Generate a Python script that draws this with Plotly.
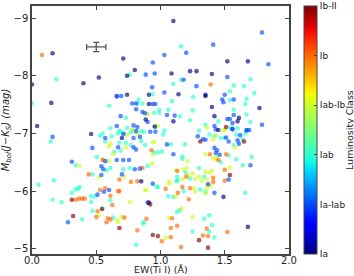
import numpy as np
import plotly.graph_objects as go

# ---- data ----
# Luminosity class code: 0=Ia, 1=Ia-Iab, 2=Iab, 3=Iab-Ib, 4=Ib, 5=Ib-II
class_labels = ["Ia", "Ia-Iab", "Iab", "Iab-Ib", "Ib", "Ib-II"]

iab_ew = [0.19, 0.0, 0.60, 0.61, 0.68, 1.16, 0.76, 1.16, 1.10, 0.94, 1.255, 0.83, 1.09, 0.82, 0.86,
          0.99, 1.06, 0.95, 0.99, 1.15, 0.73, 0.74, 1.23, 1.35, 1.30, 0.96, 1.57, 1.65, 1.70, 1.54,
          1.73, 1.54, 1.67, 1.66, 1.57, 1.67, 1.70, 1.45, 1.54, 1.60, 0.146, 0.55, 0.57, 0.505, 0.34,
          0.58, 0.61, 0.47, 0.05, 0.17, 0.37, 0.36, 0.34, 0.31, 0.49, 0.46, 0.16, 0.23, 0.46, 0.61,
          0.47, 0.55, 0.63, 0.39, 0.67, 0.72, 0.77, 0.85, 0.68, 0.73, 0.77, 1.02, 1.08, 1.19, 1.17,
          1.17, 0.95, 0.98, 1.01, 0.71, 0.76, 0.90, 0.98, 1.13, 1.13, 1.06, 1.18, 1.13, 1.15, 0.865,
          0.81, 1.25, 1.71, 1.64, 1.59, 1.47, 1.53, 1.35, 1.66, 1.38, 1.34, 1.40, 1.38, 1.42, 1.23,
          1.195, 1.30, 1.34, 1.31, 1.125, 1.10, 0.97, 0.87, 1.66, 1.59, 1.47, 1.50, 1.42, 1.38, 1.57,
          1.64, 0.64, 0.69, 0.85, 0.88, 0.62, 1.03, 0.78, 0.87, 0.53, 0.69, 1.25]
iab_mbol = [-7.94, -7.52, -7.48, -7.09, -7.05, -8.51, -8.02, -7.93, -7.86, -7.68, -7.63, -7.59, -7.56, -7.52, -7.52,
            -7.41, -7.41, -7.36, -7.36, -7.30, -7.27, -7.10, -7.23, -7.15, -7.05, -7.11, -7.83, -7.82, -7.94, -7.73,
            -7.70, -7.58, -7.60, -7.51, -7.41, -7.33, -7.20, -7.21, -7.10, -7.09, -6.86, -7.00, -6.86, -6.59, -6.45,
            -6.36, -6.40, -6.29, -6.11, -6.19, -6.07, -6.04, -6.03, -5.97, -5.91, -5.91, -5.85, -5.81, -5.81, -5.84,
            -5.66, -5.70, -5.54, -5.51, -7.00, -7.00, -7.02, -7.04, -6.84, -6.84, -6.80, -6.98, -6.81, -6.81, -6.60,
            -6.56, -6.67, -6.67, -6.69, -6.38, -6.40, -6.44, -6.07, -6.25, -6.19, -5.91, -6.00, -5.64, -5.67, -5.44,
            -5.07, -5.30, -6.59, -6.45, -6.55, -6.50, -6.62, -5.99, -5.97, -5.58, -5.52, -5.41, -5.30, -5.20, -6.22,
            -6.32, -6.40, -6.25, -6.03, -6.17, -5.90, -6.08, -5.46, -7.00, -6.98, -6.92, -6.92, -6.95, -6.98, -6.80,
            -6.90, -6.68, -6.70, -6.87, -6.80, -6.95, -7.05, -7.05, -7.03, -6.96, -7.03, -7.40]

iabib_ew = [0.90, 0.78, 0.98, 1.36, 1.49, 1.50, 0.61, 0.63, 0.37, 0.60, 0.52, 0.52, 0.67, 0.74, 0.73,
            0.94, 0.95, 0.94, 1.21, 0.72, 0.89, 1.07, 0.76, 0.66, 0.70, 1.065, 1.04, 1.25, 1.58, 1.43,
            1.41, 1.43, 1.41, 1.35, 1.35, 1.38, 1.40, 1.54, 1.36, 1.37, 1.36, 1.125, 1.18, 1.25, 1.27,
            1.32, 1.39, 1.17, 1.26, 1.27, 1.35, 1.16, 1.065, 0.935, 0.88, 1.12, 0.82, 0.55, 0.60, 1.44,
            1.30, 1.22, 1.20]
iabib_mbol = [-7.34, -7.06, -7.13, -7.10, -7.06, -7.06, -6.82, -6.65, -6.44, -6.52, -6.24, -5.58, -5.47, -6.97, -6.76,
              -6.85, -6.85, -6.63, -6.52, -6.25, -6.02, -6.13, -5.81, -5.50, -5.55, -5.54, -5.19, -5.55, -6.76, -6.97,
              -6.90, -6.55, -6.57, -6.64, -6.34, -6.32, -6.35, -6.41, -6.20, -6.12, -6.05, -6.36, -6.37, -6.31, -6.21,
              -6.18, -6.09, -6.21, -6.05, -5.99, -5.96, -5.70, -6.17, -6.48, -6.02, -5.91, -7.00, -6.55, -6.78, -6.60,
              -6.25, -6.27, -6.40]

ib_ew = [0.078, 1.39, 0.55, 0.44, 0.53, 0.67, 0.61, 0.34, 0.365, 0.39, 0.41, 0.625, 0.51, 0.59, 0.61,
         0.93, 0.86, 0.68, 0.77, 0.82, 0.68, 1.04, 1.13, 1.135, 1.17, 1.20, 1.23, 1.22, 0.72, 0.89,
         1.09, 1.08, 1.13, 0.82, 1.01, 1.08, 1.16, 1.37, 1.385, 1.51, 1.45, 1.50, 1.41, 1.50, 1.41,
         1.36, 1.52, 1.33, 0.50, 0.57, 0.58]
ib_mbol = [-8.36, -7.85, -6.54, -6.29, -6.02, -6.00, -5.92, -5.85, -5.87, -5.87, -5.87, -5.76, -5.65, -5.53, -5.51,
           -6.71, -6.40, -6.20, -6.16, -6.17, -6.00, -6.04, -6.35, -5.97, -6.07, -6.25, -6.05, -5.86, -5.54, -5.52,
           -5.53, -5.36, -5.40, -5.32, -5.13, -5.20, -5.03, -5.22, -6.64, -6.64, -6.54, -6.37, -6.23, -6.18, -6.16,
           -5.35, -5.29, -5.23, -5.55, -6.05, -5.46]

iaiab_ew = [0.66, 0.66, 1.20, 1.03, 0.94, 0.885, 0.955, 1.18, 1.28, 0.66, 0.695, 1.03, 0.78, 0.81, 0.94,
            0.96, 0.81, 0.86, 1.05, 1.11, 0.69, 0.90, 0.79, 1.79, 1.41, 1.84, 1.52, 1.50, 1.48, 1.49,
            1.57, 1.57, 1.52, 1.54, 1.56, 1.79, 1.42, 1.56, 1.67, 1.69, 0.16, 0.57, 0.47, 0.67, 0.31,
            0.57, 0.66, 0.54, 0.555, 0.54, 0.56, 0.60, 0.51, 0.28, 0.71, 0.81, 0.84, 0.92, 0.96, 0.79,
            0.79, 0.81, 1.05, 1.29, 1.33, 1.10, 0.71, 0.755, 0.80, 0.84, 0.70, 0.94, 0.90, 1.43, 1.56,
            1.62, 1.67, 1.60, 1.61, 1.53, 1.42, 1.44, 1.43, 1.51, 1.35, 1.70, 1.46, 1.53, 1.37, 1.42,
            0.935, 0.82, 0.88]
iaiab_mbol = [-7.64, -7.13, -8.40, -8.36, -8.23, -8.02, -8.04, -7.93, -7.82, -7.65, -7.65, -7.71, -7.52, -7.52, -7.51,
              -7.51, -7.42, -7.37, -7.32, -7.31, -7.30, -7.20, -7.14, -8.75, -8.54, -8.20, -7.98, -7.67, -7.59, -7.54,
              -7.59, -7.32, -7.25, -7.25, -7.18, -7.15, -7.13, -7.08, -7.06, -7.06, -6.94, -6.92, -6.75, -6.76, -6.51,
              -6.52, -6.54, -6.43, -6.38, -6.28, -5.99, -6.02, -5.94, -5.46, -6.99, -7.04, -6.94, -7.03, -7.03, -6.92,
              -6.76, -6.72, -6.81, -6.95, -6.90, -6.64, -6.54, -6.54, -6.38, -6.39, -6.29, -6.13, -5.80, -7.07, -7.07,
              -6.97, -7.05, -6.88, -6.82, -6.86, -6.75, -6.71, -6.66, -6.93, -6.89, -6.45, -6.63, -6.20, -6.12, -5.97,
              -7.80, -7.11, -7.35]

ia_ew = [0.16, 0.52, 0.40, 0.0, 0.15, 0.04, 1.10, 0.71, 0.80, 1.23, 1.28, 0.74, 1.086, 0.74, 0.91,
         1.14, 1.35, 0.91, 0.885, 0.955, 1.10, 1.52, 1.68, 1.40, 1.35, 1.40, 1.77, 1.42, 1.61, 1.60,
         1.45, 0.46, 0.70, 0.85, 0.91, 1.49, 1.68]
ia_mbol = [-8.39, -7.97, -7.87, -7.85, -7.53, -7.13, -8.95, -8.30, -8.10, -8.08, -8.08, -8.00, -8.04, -7.67, -7.67,
           -7.68, -7.67, -7.51, -7.24, -7.12, -7.21, -8.25, -8.25, -8.03, -7.65, -7.46, -7.44, -7.30, -7.27, -7.21,
           -7.06, -6.99, -6.92, -6.17, -5.80, -5.90, -5.38]

ibii_ew = [1.51, 0.31, 0.545, 0.68, 0.32, 0.92, 0.94, 0.98, 1.30, 1.65, 1.54, 1.37, 1.31]
ibii_mbol = [-7.11, -5.85, -5.69, -5.36, -5.57, -5.77, -5.24, -5.22, -5.15, -6.86, -6.28, -5.02, -6.86]

# typical error bar
err_ew, err_mbol = 0.5, -8.5
err_dx, err_dy = 0.075, 0.08

groups = [(iab_ew, iab_mbol, 2), (iabib_ew, iabib_mbol, 3), (ib_ew, ib_mbol, 4),
          (iaiab_ew, iaiab_mbol, 1), (ia_ew, ia_mbol, 0), (ibii_ew, ibii_mbol, 5)]
xs, ys, cs = [], [], []
for gx, gy, c in groups:
    xs += gx
    ys += gy
    cs += [c] * len(gx)

# matplotlib "jet" colormap
def jet_scale(n=51):
    red = [(0, 0), (0.35, 0), (0.66, 1), (0.89, 1), (1, 0.5)]
    green = [(0, 0), (0.125, 0), (0.375, 1), (0.64, 1), (0.91, 0), (1, 0)]
    blue = [(0, 0.5), (0.11, 1), (0.34, 1), (0.65, 0), (1, 0)]
    out = []
    for t in np.linspace(0, 1, n):
        r, g, b = [np.interp(t, [p[0] for p in ch], [p[1] for p in ch]) for ch in (red, green, blue)]
        out.append([float(t), f"rgb({int(r*255)},{int(g*255)},{int(b*255)})"])
    return out

font = "DejaVu Sans"
fig = go.Figure()
fig.add_trace(go.Scatter(
    x=xs, y=ys, mode="markers",
    marker=dict(size=4.6, color=cs, colorscale=jet_scale(), cmin=0, cmax=5, opacity=0.65,
                line=dict(width=0),
                colorbar=dict(thickness=13, len=1.0, lenmode="fraction", y=0.5, yanchor="middle",
                              x=1.058, xanchor="left", xpad=0, ypad=0,
                              outlinewidth=1, outlinecolor="#444",
                              tickvals=list(range(6)), ticktext=class_labels,
                              ticks="inside", ticklen=3, tickcolor="#444",
                              tickfont=dict(family=font, size=9, color="#222"))),
    showlegend=False, hoverinfo="skip"))

fig.add_trace(go.Scatter(
    x=[err_ew], y=[err_mbol], mode="markers",
    marker=dict(size=1, color="#555"),
    error_x=dict(type="constant", value=err_dx, color="#555", thickness=1.3, width=3),
    error_y=dict(type="constant", value=err_dy, color="#555", thickness=1.3, width=3),
    showlegend=False, hoverinfo="skip"))

axis_common = dict(showgrid=False, zeroline=False, showline=True, linecolor="#444", linewidth=1.5,
                   mirror="ticks", ticks="inside", ticklen=4, tickcolor="#444", automargin=False,
                   tickfont=dict(family=font, size=10, color="#222"))

fig.update_layout(
    width=354, height=276,
    margin=dict(l=32, r=65, t=6, b=22, autoexpand=False),
    plot_bgcolor="white", paper_bgcolor="white",
    xaxis=dict(range=[0, 2.0], tickvals=[0, 0.5, 1.0, 1.5, 2.0],
               ticktext=["0.0", "0.5", "1.0", "1.5", "2.0"], ticklabelstandoff=-4,
               **axis_common),
    yaxis=dict(range=[-4.91, -9.21], tickvals=[-9, -8, -7, -6, -5],
               title=dict(text="<i>M</i><sub><i>bol</i></sub><i>(J−K</i><sub><i>S</i></sub><i>)</i> <i>(mag)</i>",
                          standoff=1, font=dict(family=font, size=10, color="#222")),
               **axis_common),
    annotations=[
        dict(text="EW(Ti I) (Å)", xref="paper", yref="paper", x=0.5, y=-0.0867,
             xanchor="center", yanchor="bottom", showarrow=False, borderpad=0,
             font=dict(family=font, size=9.5, color="#222")),
        dict(text="Luminosity Class", xref="paper", yref="paper", x=1.2335, y=0.5,
             xanchor="center", yanchor="middle", textangle=-90, showarrow=False,
             font=dict(family=font, size=9.5, color="#222")),
    ],
)

fig.write_html("out.html", config={"displayModeBar": False},
               post_script="document.body.style.margin='0';document.body.style.overflow='hidden';")
